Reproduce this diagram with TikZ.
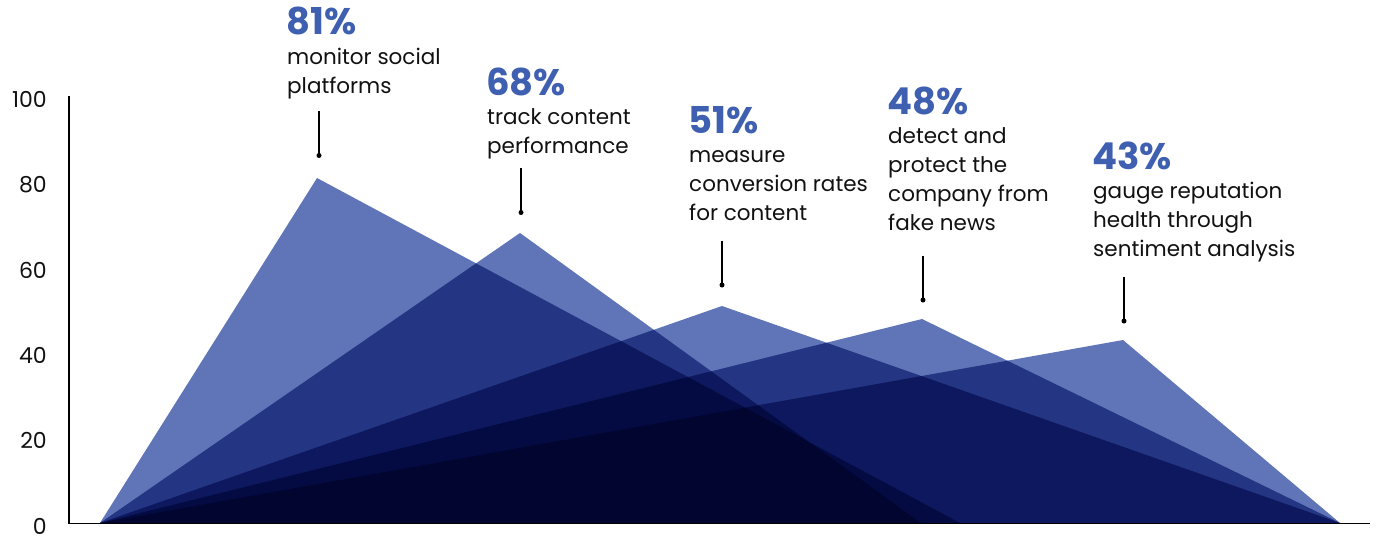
\documentclass[tikz,border=0pt]{standalone}
\usepackage{fontspec}
\setmainfont{Poppins}
\definecolor{triblue}{RGB}{96,117,183}
\definecolor{pctblue}{RGB}{63,96,176}
\definecolor{txt}{RGB}{17,17,17}
\begin{document}
\begin{tikzpicture}[x=1pt,y=-1pt,
  tri/.style={fill=triblue, blend mode=multiply},
  axisline/.style={draw=black, line width=1.4pt},
  ticklbl/.style={anchor=base east, inner sep=0pt, text=txt, font=\fontsize{22}{25}\selectfont},
  pct/.style={anchor=base west, inner sep=0pt, text=pctblue, font=\fontsize{37}{40}\selectfont\bfseries},
  desc/.style={anchor=north west, inner sep=0pt, align=left, text=txt, font=\fontsize{21.5}{29}\selectfont},
  leader/.style={draw=black, line width=1.2pt},
  dotnode/.style={circle, fill=black, inner sep=0pt, minimum size=5pt}]
\useasboundingbox (0,0) rectangle (1377,539);
% triangles
\fill[tri] (100,523) -- (317,178) -- (960,523) -- cycle;
\fill[tri] (100,523) -- (520,233) -- (921,523) -- cycle;
\fill[tri] (100,523) -- (722,306) -- (1340,523) -- cycle;
\fill[tri] (100,523) -- (922,319) -- (1340,523) -- cycle;
\fill[tri] (100,523) -- (1123,340) -- (1340,523) -- cycle;
% axes
\coordinate (ytop) at (69,96);
\coordinate (origin) at (69,523.5);
\coordinate (xend) at (1370,523.5);
\draw[axisline] (ytop) -- (origin) -- (xend);
% tick labels
\node[ticklbl] (t100) at (47,107.5) {100};
\node[ticklbl] (t80) at (47,192.5) {80};
\node[ticklbl] (t60) at (47,278) {60};
\node[ticklbl] (t40) at (47,363) {40};
\node[ticklbl] (t20) at (47,448.5) {20};
\node[ticklbl] (t0) at (47,534) {0};
% labels
\node[pct] (p1) at (286,34.5) {81\%};
\node[desc] (d1) at (287,43.5) {\strut monitor social\\platforms};
\node[pct] (p2) at (486,95) {68\%};
\node[desc] (d2) at (487,103.5) {\strut track content\\performance};
\node[pct] (p3) at (688,133) {51\%};
\node[desc] (d3) at (689,141.5) {\strut measure\\conversion rates\\for content};
\node[pct] (p4) at (887,114) {48\%};
\node[desc] (d4) at (888,122.5) {\strut detect and\\protect the\\company from\\fake news};
\node[pct] (p5) at (1092,169) {43\%};
\node[desc] (d5) at (1093,177.5) {\strut gauge reputation\\health through\\sentiment analysis};
% leaders
\coordinate (l1) at (319,111);
\node[dotnode] (k1) at (319,155.5) {};
\draw[leader] (l1) -- (k1.center);
\coordinate (l2) at (521,168);
\node[dotnode] (k2) at (521,212.5) {};
\draw[leader] (l2) -- (k2.center);
\coordinate (l3) at (722,240.5);
\node[dotnode] (k3) at (722,285) {};
\draw[leader] (l3) -- (k3.center);
\coordinate (l4) at (923,255.5);
\node[dotnode] (k4) at (923,300) {};
\draw[leader] (l4) -- (k4.center);
\coordinate (l5) at (1124,276.5);
\node[dotnode] (k5) at (1124,321) {};
\draw[leader] (l5) -- (k5.center);
\end{tikzpicture}
\end{document}
